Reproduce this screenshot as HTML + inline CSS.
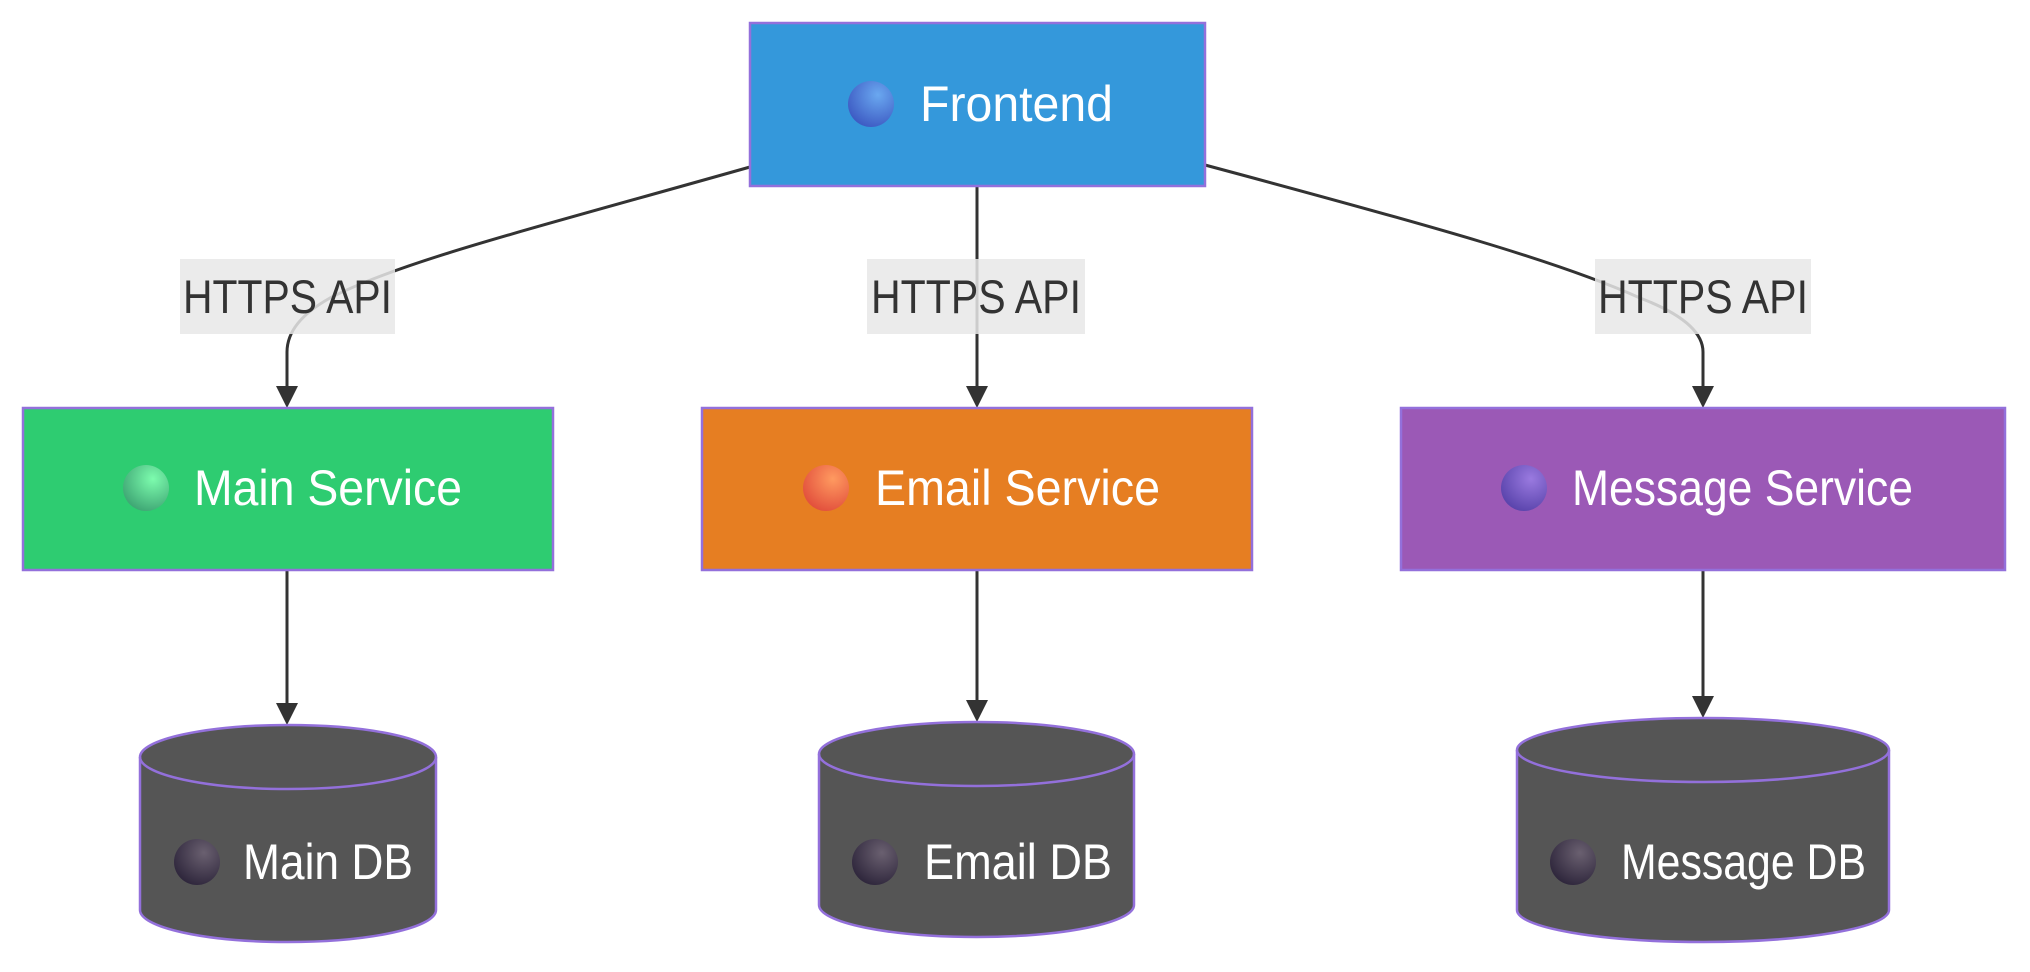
<!DOCTYPE html>
<html><head><meta charset="utf-8"><style>
html,body{margin:0;padding:0;background:#fff;}
svg{display:block;}
text{font-family:"Liberation Sans",sans-serif;}
</style></head><body>
<svg width="2030" height="972" viewBox="0 0 2030 972" xmlns="http://www.w3.org/2000/svg">
<defs>
<radialGradient id="gb" cx="0.65" cy="0.3" r="0.8"><stop offset="0" stop-color="#6aa8f0"/><stop offset="1" stop-color="#3a55c0"/></radialGradient>
<radialGradient id="gg" cx="0.65" cy="0.3" r="0.8"><stop offset="0" stop-color="#7dfcae"/><stop offset="1" stop-color="#3aa070"/></radialGradient>
<radialGradient id="go" cx="0.65" cy="0.3" r="0.8"><stop offset="0" stop-color="#ff9a60"/><stop offset="1" stop-color="#e04a3a"/></radialGradient>
<radialGradient id="gp" cx="0.65" cy="0.3" r="0.8"><stop offset="0" stop-color="#9a7ae0"/><stop offset="1" stop-color="#5540a8"/></radialGradient>
<radialGradient id="gd" cx="0.65" cy="0.3" r="0.8"><stop offset="0" stop-color="#6a6070"/><stop offset="1" stop-color="#2a2238"/></radialGradient>
</defs>

<g fill="none" stroke="#333" stroke-width="3">
<path d="M750,167 C520,232 400,262 330,298 Q287,322 287,352 L287,392"/>
<path d="M977,186 L977,392"/>
<path d="M1205,165 C1440,228 1560,262 1640,298 Q1703,322 1703,352 L1703,392"/>
<path d="M287,570 L287,708"/>
<path d="M977,570 L977,705"/>
<path d="M1703,570 L1703,701"/>
</g>
<g fill="#333">
<path d="M276,386 L298,386 L287,408 Z"/>
<path d="M966,386 L988,386 L977,408 Z"/>
<path d="M1692,386 L1714,386 L1703,408 Z"/>
<path d="M276,703 L298,703 L287,725 Z"/>
<path d="M966,700 L988,700 L977,722 Z"/>
<path d="M1692,696 L1714,696 L1703,718 Z"/>
</g>

<g fill="#e8e8e8" fill-opacity="0.85">
<rect x="180" y="259" width="215" height="75"/>
<rect x="867" y="259" width="218" height="75"/>
<rect x="1595" y="259" width="216" height="75"/>
</g>
<g fill="#333" font-size="47">
<text x="183" y="313" textLength="209" lengthAdjust="spacingAndGlyphs">HTTPS API</text>
<text x="871" y="313" textLength="210" lengthAdjust="spacingAndGlyphs">HTTPS API</text>
<text x="1598" y="313" textLength="210" lengthAdjust="spacingAndGlyphs">HTTPS API</text>
</g>

<g stroke="#9370DB" stroke-width="2.5">
<rect x="750" y="23" width="455" height="163" fill="#3498db"/>
<rect x="23" y="408" width="530" height="162" fill="#2ecc71"/>
<rect x="702" y="408" width="550" height="162" fill="#e67e22"/>
<rect x="1401" y="408" width="604" height="162" fill="#9b59b6"/>
</g>

<g stroke="#9370DB" stroke-width="2.5" fill="#555">
<path d="M140,757 A148,32 0 0 1 436,757 L436,910 A148,32 0 0 1 140,910 Z"/>
<path d="M140,757 A148,32 0 0 0 436,757" fill="none"/>
<path d="M819,754 A157.5,32 0 0 1 1134,754 L1134,905 A157.5,32 0 0 1 819,905 Z"/>
<path d="M819,754 A157.5,32 0 0 0 1134,754" fill="none"/>
<path d="M1517,750 A186,32 0 0 1 1889,750 L1889,910 A186,32 0 0 1 1517,910 Z"/>
<path d="M1517,750 A186,32 0 0 0 1889,750" fill="none"/>
</g>

<circle cx="871" cy="104" r="23" fill="url(#gb)"/>
<circle cx="146" cy="488" r="23" fill="url(#gg)"/>
<circle cx="826" cy="488" r="23" fill="url(#go)"/>
<circle cx="1524" cy="488" r="23" fill="url(#gp)"/>
<circle cx="197" cy="862" r="23" fill="url(#gd)"/>
<circle cx="875" cy="862" r="23" fill="url(#gd)"/>
<circle cx="1573" cy="862" r="23" fill="url(#gd)"/>

<g fill="#fff" font-size="50">
<text x="920" y="121" textLength="193" lengthAdjust="spacingAndGlyphs">Frontend</text>
<text x="194" y="505" textLength="268" lengthAdjust="spacingAndGlyphs">Main Service</text>
<text x="875" y="505" textLength="285" lengthAdjust="spacingAndGlyphs">Email Service</text>
<text x="1572" y="505" textLength="341" lengthAdjust="spacingAndGlyphs">Message Service</text>
<text x="243" y="879" textLength="170" lengthAdjust="spacingAndGlyphs">Main DB</text>
<text x="924" y="879" textLength="188" lengthAdjust="spacingAndGlyphs">Email DB</text>
<text x="1621" y="879" textLength="245" lengthAdjust="spacingAndGlyphs">Message DB</text>
</g>
</svg>
</body></html>
